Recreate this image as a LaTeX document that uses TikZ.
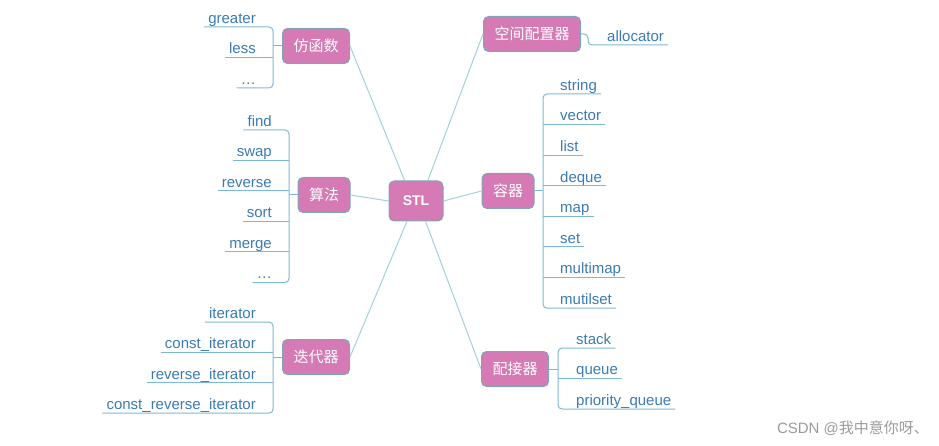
\documentclass[tikz,border=0pt]{standalone}
\usepackage{fontspec}
\setmainfont{Liberation Sans}
\newfontfamily\cjk{Noto Sans CJK SC}
\usetikzlibrary{positioning,calc}
\definecolor{topicpink}{HTML}{D57AB4}
\definecolor{topicrim}{HTML}{7FA6B6}
\definecolor{spokeblue}{HTML}{A3D0DD}
\definecolor{twigblue}{HTML}{7CB8D6}
\definecolor{leafblue}{HTML}{3A7BB3}
\definecolor{markgray}{HTML}{9A9A9A}

\begin{document}
\begin{tikzpicture}[x=1pt, y=-1pt,
  topic/.style={rounded corners=5pt, fill=topicpink, draw=topicrim, line width=1pt,
                text=white, font=\cjk\fontsize{15}{15}\selectfont,
                minimum height=35pt, inner xsep=11pt},
  leaf/.style={text=leafblue, font=\fontsize{15}{15}\selectfont,
               inner xsep=4pt, inner ysep=1.5pt, text depth=0.2em},
  leafL/.style={leaf, anchor=south east},
  leafR/.style={leaf, anchor=south west},
  spoke/.style={draw=spokeblue, line width=1pt},
  twig/.style={draw=twigblue, line width=1pt, rounded corners=4pt},
]
\useasboundingbox (0,0) rectangle (939,446);

% topics
\node[topic, font=\bfseries\fontsize{14}{14}\selectfont, minimum width=54pt,
      minimum height=40pt] (stl) at (416,201) {STL};
\node[topic] (fanghan) at (316,46) {仿函数};
\node[topic] (suanfa) at (324,195) {算法};
\node[topic] (diedai) at (316,357) {迭代器};
\node[topic] (kongjian) at (532,34) {空间配置器};
\node[topic] (rongqi) at (508,191) {容器};
\node[topic] (peijie) at (515,369) {配接器};

\draw[spoke] (fanghan.east) -- (stl.119);
\draw[spoke] (suanfa.east) -- (stl.west);
\draw[spoke] (diedai.east) -- (stl.246);
\draw[spoke] (kongjian.west) -- (stl.60);
\draw[spoke] (rongqi.west) -- (stl.east);
\draw[spoke] (peijie.west) -- (stl.295);

% bracket tops
\coordinate (fhB) at (273,27);
\coordinate (sfB) at (289,130);
\coordinate (ddB) at (273,322);
\coordinate (kjB) at (588,45);
\coordinate (rqB) at (543,94);
\coordinate (pjB) at (558,348);

% left leaves
\foreach \t [count=\i] in {greater,less,\ldots}
  \node[leafL] (fh\i) at ($(fhB)+(-13,{30.5*(\i-1)})$) {\t};
\foreach \t [count=\i] in {find,swap,reverse,sort,merge,\ldots}
  \node[leafL] (sf\i) at ($(sfB)+(-13,{30.5*(\i-1)})$) {\t};
\foreach \t [count=\i] in {iterator,const\_iterator,reverse\_iterator,const\_reverse\_iterator}
  \node[leafL] (dd\i) at ($(ddB)+(-13,{30.4*(\i-1)})$) {\t};

% right leaves
\node[leafR] (kj1) at ($(kjB)+(15,0)$) {allocator};
\foreach \t [count=\i] in {string,vector,list,deque,map,set,multimap,mutilset}
  \node[leafR] (rq\i) at ($(rqB)+(13,{30.6*(\i-1)})$) {\t};
\foreach \t [count=\i] in {stack,queue,priority\_queue}
  \node[leafR] (pj\i) at ($(pjB)+(14,{30.5*(\i-1)})$) {\t};

% 仿函数
\draw[twig] (fh1.south west) -| (fh3.south west -| fhB) -- (fh3.south west);
\draw[twig] (fh2.south west) -- (fh2.south west -| fhB);
\draw[twig] (fanghan.west) -- (fanghan.west -| fhB);
% 算法
\draw[twig] (sf1.south west) -| (sf6.south west -| sfB) -- (sf6.south west);
\foreach \i in {2,...,5}
  \draw[twig] (sf\i.south west) -- (sf\i.south west -| sfB);
\draw[twig] (suanfa.west) -- (suanfa.west -| sfB);
% 迭代器
\draw[twig] (dd1.south west) -| (dd4.south west -| ddB) -- (dd4.south west);
\foreach \i in {2,3}
  \draw[twig] (dd\i.south west) -- (dd\i.south west -| ddB);
\draw[twig] (diedai.west) -- (diedai.west -| ddB);
% 空间配置器
\draw[twig] (kongjian.east) -| (kjB) -- (kj1.south east);
% 容器
\draw[twig] (rq1.south east) -| (rq8.south east -| rqB) -- (rq8.south east);
\foreach \i in {2,...,7}
  \draw[twig] (rq\i.south east) -- (rq\i.south east -| rqB);
\draw[twig] (rongqi.east) -- (rongqi.east -| rqB);
% 配接器
\draw[twig] (pj1.south east) -| (pj3.south east -| pjB) -- (pj3.south east);
\draw[twig] (pj2.south east) -- (pj2.south east -| pjB);
\draw[twig] (peijie.east) -- (peijie.east -| pjB);

\node[text=markgray, font=\fontsize{15}{15}\selectfont] (mark) at (853,428)
  {CSDN @{\cjk 我中意你呀、}};
\end{tikzpicture}
\end{document}
